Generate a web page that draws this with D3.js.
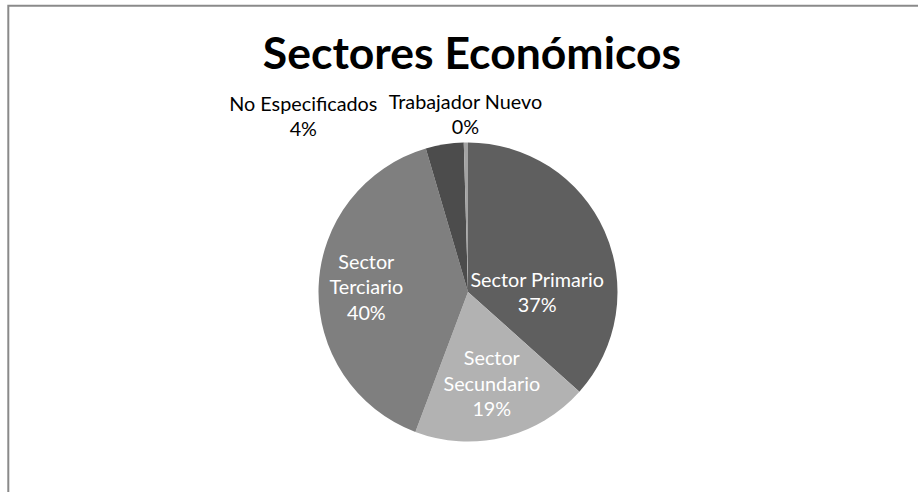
<!DOCTYPE html>
<html>
<head>
<meta charset="utf-8">
<script src="https://cdn.jsdelivr.net/npm/d3@7"></script>
<style>
  html, body { margin: 0; padding: 0; background: #fff; }
  svg { display: block; }
  text { font-family: Lato, "Open Sans", "Noto Sans", sans-serif; }
</style>
</head>
<body>
<svg id="chart" width="918" height="492"></svg>
<script>
// Economic sectors, share of population (%)
const categories = ["Sector Primario", "Sector Secundario", "Sector Terciario", "No Especificados", "Trabajador Nuevo"];
const values = [36.6, 19.1, 39.7, 4.1, 0.45];
// label text lines, as wrapped in the chart (percentage appended below)
const labelLines = [["Sector Primario"], ["Sector", "Secundario"], ["Sector", "Terciario"], ["No Especificados"], ["Trabajador Nuevo"]];
const colors = ["#5f5f5f", "#b2b2b2", "#7f7f7f", "#4c4c4c", "#a3a3a3"];
const labelColors = ["#ffffff", "#ffffff", "#ffffff", "#000000", "#000000"];
// label placement relative to each slice centroid
const labelNudge = [[1, 38], [6, 26], [-27, 5], [-153, -95], [-1.5, -96]];
const title = "Sectores Económicos";

const W = 918, H = 492;
const cx = 468, cy = 292, R = 149.5;
const lineH = 25.3, fontSize = 19.8;

const svg = d3.select("#chart");

// chart frame (left and top edges visible)
svg.append("path")
  .attr("d", `M8.3,${H} L8.3,5.7 L${W},5.7`)
  .attr("fill", "none")
  .attr("stroke", "#8a8a8a")
  .attr("stroke-width", 2);

svg.append("text")
  .attr("x", 472)
  .attr("y", 69)
  .attr("text-anchor", "middle")
  .attr("font-size", 44.5)
  .attr("font-weight", 700)
  .attr("fill", "#000")
  .text(title);

const data = categories.map((c, i) => ({ name: c, value: values[i], i }));
const total = d3.sum(values);

const pie = d3.pie().value(d => d.value).sort(null);
const arc = d3.arc().innerRadius(0).outerRadius(R);
const arcs = pie(data);

const g = svg.append("g").attr("transform", `translate(${cx},${cy})`);

g.selectAll("path.slice")
  .data(arcs)
  .join("path")
  .attr("class", "slice")
  .attr("d", arc)
  .attr("fill", d => colors[d.data.i]);

const fmt = v => Math.round(v / total * 100) + "%";

arcs.forEach(a => {
  const i = a.data.i;
  const [x0, y0] = arc.centroid(a);
  const lines = labelLines[i].concat([fmt(a.data.value)]);
  const x = x0 + labelNudge[i][0];
  const yMid = y0 + labelNudge[i][1];
  const yFirst = yMid - (lines.length - 1) * lineH / 2;
  const t = g.append("text")
    .attr("text-anchor", "middle")
    .attr("font-size", fontSize)
    .attr("fill", labelColors[i]);
  lines.forEach((ln, k) => {
    t.append("tspan").attr("x", x).attr("y", yFirst + k * lineH).text(ln);
  });
});
</script>
</body>
</html>
